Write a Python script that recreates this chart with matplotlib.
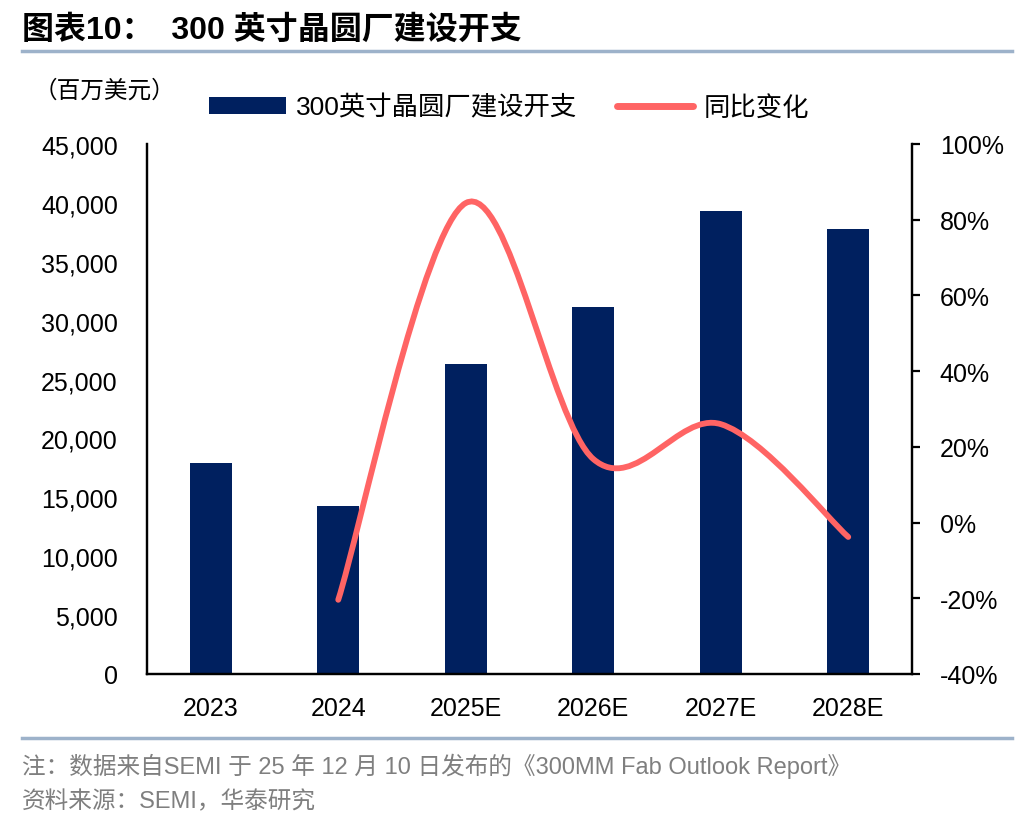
import matplotlib
matplotlib.use('Agg')
import matplotlib.pyplot as plt
from matplotlib.path import Path
from matplotlib.patches import PathPatch, Patch
from matplotlib.lines import Line2D
from matplotlib.ticker import FuncFormatter

plt.rcParams['font.family'] = ['Liberation Sans', 'Noto Sans CJK SC', 'DejaVu Sans']

# data
years = ['2023', '2024', '2025E', '2026E', '2027E', '2028E']
capex = [17900, 14300, 26300, 31150, 39300, 37800]   # 百万美元
yoy = [None, -20.4, 84.4, 16.8, 26.0, -3.8]           # %

bar_color = '#00205F'
line_color = '#FF6464'

fig = plt.figure(figsize=(10.36, 8.28), dpi=100)
ax = fig.add_axes([147 / 1036, 1 - 675 / 828, (912 - 147) / 1036, (675 - 145) / 828])
ax2 = ax.twinx()

x = list(range(len(years)))
ax.bar(x, capex, width=0.33, color=bar_color, zorder=2)
ax.set_xlim(-0.5, len(years) - 0.5)
ax.set_ylim(0, 45000)
ax.set_yticks(range(0, 45001, 5000))
ax.yaxis.set_major_formatter(FuncFormatter(lambda v, p: f'{int(v):,}'))
ax.set_xticks(x)
ax.set_xticklabels(years)
ax.tick_params(axis='y', length=0, pad=21, labelsize=18)
ax.tick_params(axis='x', length=0, pad=16, labelsize=18)

for s in ['top']:
    ax.spines[s].set_visible(False)
    ax2.spines[s].set_visible(False)
for s in ['left', 'bottom', 'right']:
    ax.spines[s].set_linewidth(1.6)
    ax2.spines[s].set_linewidth(1.6)

ax2.set_ylim(-40, 100)
ax2.set_yticks(range(-40, 101, 20))
ax2.yaxis.set_major_formatter(FuncFormatter(lambda v, p: f'{int(v)}%'))
ax2.tick_params(axis='y', length=6, width=1.6, pad=14, labelsize=18)

# smoothed line (Excel-style bezier through the points)
pts = [(i, v) for i, v in zip(x, yoy) if v is not None]
verts = [pts[0]]
codes = [Path.MOVETO]
for i in range(len(pts) - 1):
    p0 = pts[i - 1] if i > 0 else pts[i]
    p1 = pts[i]
    p2 = pts[i + 1]
    p3 = pts[i + 2] if i + 2 < len(pts) else pts[i + 1]
    c1 = (p1[0] + (p2[0] - p0[0]) / 6, p1[1] + (p2[1] - p0[1]) / 6)
    c2 = (p2[0] - (p3[0] - p1[0]) / 6, p2[1] - (p3[1] - p1[1]) / 6)
    verts += [c1, c2, p2]
    codes += [Path.CURVE4] * 3
ax2.add_patch(PathPatch(Path(verts, codes), facecolor='none', edgecolor=line_color,
                        lw=4.2, capstyle='round', zorder=3))

# legend
handles = [Patch(facecolor=bar_color, edgecolor='none'),
           Line2D([], [], color=line_color, lw=5, solid_capstyle='round')]
fig.legend(handles, ['300英寸晶圆厂建设开支', '同比变化'], loc='center left',
           bbox_to_anchor=(209 / 1036, 1 - 108 / 828), ncol=2, frameon=False,
           fontsize=19, handlelength=2.9, handleheight=0.65, handletextpad=0.4,
           columnspacing=1.5, borderpad=0, borderaxespad=0)

fig.text(34 / 1036, 1 - 91 / 828, '（百万美元）', fontsize=17, va='center', ha='left')

# title and rules
fig.text(22 / 1036, 1 - 31 / 828, '图表10：  300 英寸晶圆厂建设开支', fontsize=23,
         fontweight='bold', va='center', ha='left')
fig.add_artist(Line2D([22 / 1036, 1012 / 1036], [1 - 52 / 828] * 2, color='#9DB2CA', lw=2.5))
fig.add_artist(Line2D([22 / 1036, 1012 / 1036], [1 - 739 / 828] * 2, color='#9DB2CA', lw=2.5))

fig.text(22 / 1036, 1 - 766 / 828,
         '注：数据来自SEMI 于 25 年 12 月 10 日发布的《300MM Fab Outlook Report》',
         fontsize=17, color='#7F7F7F', va='center', ha='left')
fig.text(22 / 1036, 1 - 802 / 828, '资料来源：SEMI，华泰研究',
         fontsize=17, color='#7F7F7F', va='center', ha='left')

fig.savefig('out.png', dpi=100)
